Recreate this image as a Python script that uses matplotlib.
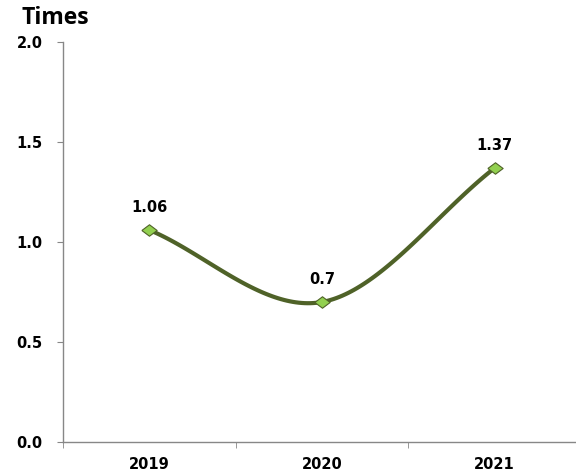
import numpy as np
import matplotlib.pyplot as plt

years = ['2019', '2020', '2021']
values = [1.06, 0.7, 1.37]
y_ticks = [0.0, 0.5, 1.0, 1.5, 2.0]


def smooth_curve(xs, ys, n=60, tension=0.5):
    # Catmull-Rom style smoothing like a spreadsheet "smoothed line"
    xs = np.asarray(xs, float)
    ys = np.asarray(ys, float)
    px = np.concatenate([[2 * xs[0] - xs[1]], xs, [2 * xs[-1] - xs[-2]]])
    py = np.concatenate([[2 * ys[0] - ys[1]], ys, [2 * ys[-1] - ys[-2]]])
    out_x, out_y = [], []
    for i in range(1, len(px) - 2):
        t = np.linspace(0, 1, n)
        m1x = tension * (px[i + 1] - px[i - 1])
        m1y = tension * (py[i + 1] - py[i - 1])
        m2x = tension * (px[i + 2] - px[i])
        m2y = tension * (py[i + 2] - py[i])
        h00 = 2 * t**3 - 3 * t**2 + 1
        h10 = t**3 - 2 * t**2 + t
        h01 = -2 * t**3 + 3 * t**2
        h11 = t**3 - t**2
        out_x.append(h00 * px[i] + h10 * m1x + h01 * px[i + 1] + h11 * m2x)
        out_y.append(h00 * py[i] + h10 * m1y + h01 * py[i + 1] + h11 * m2y)
    return np.concatenate(out_x), np.concatenate(out_y)


W, H = 576, 473
fig = plt.figure(figsize=(W / 100, H / 100), dpi=100)
ax = fig.add_axes([63 / W, 1 - 442 / H, 518 / W, 400 / H])

flat_diamond = [(-1, 0), (0, 0.75), (1, 0), (0, -0.75), (-1, 0)]

x = np.arange(1, len(years) + 1)
sx, sy = smooth_curve(x, values)
ax.plot(sx, sy, color='#4F6228', linewidth=3, solid_capstyle='round', zorder=2)
ax.plot(x, values, linestyle='none', marker=flat_diamond, markersize=11,
        markerfacecolor='#92D050', markeredgecolor='#4F6228',
        markeredgewidth=0.8, zorder=3)

for xi, v in zip(x, values):
    ax.annotate(f'{v:g}', (xi, v), xytext=(0, 11), textcoords='offset points',
                ha='center', va='bottom', fontsize=10.5, fontweight='bold')

ax.set_xlim(0.5, 3.5)
ax.set_ylim(0, 2.0)
ax.set_yticks(y_ticks)
ax.set_yticklabels([f'{t:.1f}' for t in y_ticks], fontsize=10.5, fontweight='bold')
ax.set_xticks(x)
ax.set_xticklabels(years, fontsize=10.5, fontweight='bold')
ax.set_xticks([0.5, 1.5, 2.5, 3.5], minor=True)
ax.tick_params(axis='x', which='major', length=0, pad=11)
ax.tick_params(axis='x', which='minor', length=4.5, color='#878787', direction='out')
ax.tick_params(axis='y', length=4.5, color='#878787', pad=10)

for side in ['top', 'right']:
    ax.spines[side].set_visible(False)
for side in ['left', 'bottom']:
    ax.spines[side].set_color('#878787')
    ax.spines[side].set_linewidth(1)

fig.text(21 / W, 1 - 6 / H, 'Times', fontsize=16.5, fontweight='bold',
         family='Open Sans', ha='left', va='top')

fig.savefig('out.png', dpi=100)
